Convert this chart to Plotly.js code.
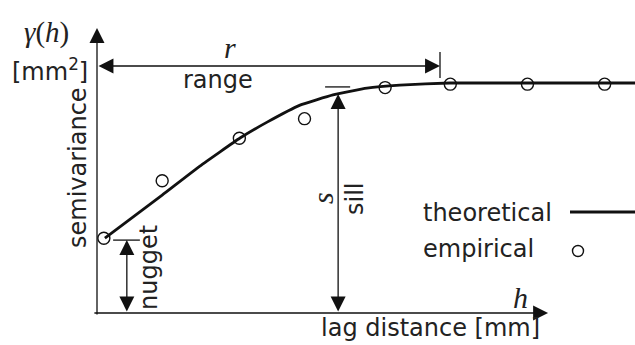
<!DOCTYPE html>
<html>
<head>
<meta charset="utf-8">
<script src="https://cdn.plot.ly/plotly-3.0.1.min.js"></script>
<style>
  html, body { margin: 0; padding: 0; background: #fff; }
  #chart { width: 635px; height: 345px; }
</style>
</head>
<body>
<div id="chart"></div>
<script>
// Empirical semivariogram (lag distance h in mm, semivariance in mm^2)
const empLag   = [0.2, 1.9, 4.15, 6.05, 8.4, 10.3, 12.55, 14.8];
const empGamma = [3.25, 5.75, 7.6, 8.45, 9.8, 9.95, 9.95, 9.95];

// Fitted (theoretical) model curve
const theoLag   = [0.23, 1.9, 3.0, 4.17, 4.96, 5.92, 6.88, 7.87, 8.83, 10.29, 15.7];
const theoGamma = [3.26, 5.13, 6.39, 7.61, 8.3, 9.04, 9.48, 9.78, 9.91, 10.0, 10.0];

// Model parameters annotated on the diagram
const nugget = 3.17;
const sill = 10.0;
const rangeR = 10.0;
const sillLag = 7.03;          // where the sill arrow is drawn
const sillTip = 9.52;          // curve height at that lag
const nuggetLag = 0.87;        // where the nugget arrow is drawn
const rangeLevel = 10.74;      // height of the range arrow

// Axis extents (data units)
const xAxisEnd = 13.15;
const yAxisEnd = 12.39;

const ink = '#111';
const textCol = '#222';
const sans = 'DejaVu Sans, sans-serif';
const serif = 'Liberation Serif, DejaVu Serif, serif';

const traces = [
  {
    x: theoLag, y: theoGamma, type: 'scatter', mode: 'lines',
    line: { color: ink, width: 2.8, shape: 'spline', smoothing: 0.35 },
    name: 'theoretical', showlegend: false, cliponaxis: false
  },
  {
    x: empLag, y: empGamma, type: 'scatter', mode: 'markers',
    marker: { symbol: 'circle-open', size: 12, color: ink, line: { width: 1.4, color: ink } },
    name: 'empirical', showlegend: false, cliponaxis: false
  }
];

function arrow(x, y, ax, ay, both) {
  const a = {
    x: x, y: y, ax: ax, ay: ay, xref: 'x', yref: 'y', axref: 'x', ayref: 'y',
    text: '', showarrow: true, arrowhead: 2, arrowsize: 2.3, arrowwidth: 1.3,
    arrowcolor: ink, standoff: 0, startstandoff: 0
  };
  if (both) {
    a.arrowside = 'end+start';
    a.startarrowhead = 2;
    a.startarrowsize = 2.3;
  }
  return a;
}

function label(x, y, text, opts) {
  return Object.assign({
    x: x, y: y, xref: 'paper', yref: 'paper', text: text, showarrow: false,
    font: { family: sans, size: 24, color: textCol },
    xanchor: 'center', yanchor: 'middle'
  }, opts || {});
}

const W = 635, H = 345;
const px = v => v / W;
const py = v => 1 - v / H;

const annotations = [
  // axes
  arrow(0, yAxisEnd, 0, -0.13, false),
  arrow(xAxisEnd, 0, -0.12, 0, false),
  // range, sill, nugget
  arrow(rangeR, rangeLevel, 0, rangeLevel, true),
  arrow(sillLag, sillTip, sillLag, 0, true),
  arrow(nuggetLag, nugget, nuggetLag, 0, true),

  label(px(46), py(32), '<i>γ</i>(<i>h</i>)', { font: { family: serif, size: 29, color: textCol } }),
  label(px(50), py(70), '[mm<sup>2</sup>]'),
  label(px(78), py(168), 'semivariance', { textangle: -90 }),
  label(px(230), py(47), '<i>r</i>', { font: { family: serif, size: 30, color: textCol } }),
  label(px(218), py(80), 'range'),
  label(px(149), py(268), 'nugget', { textangle: -90 }),
  label(px(322), py(198), '<i>s</i>', { textangle: -90, font: { family: serif, size: 30, color: textCol } }),
  label(px(355), py(199), 'sill', { textangle: -90 }),
  label(px(520), py(297), '<i>h</i>', { font: { family: serif, size: 30, color: textCol } }),
  label(px(431), py(328), 'lag distance [mm]'),
  label(px(421), py(213), 'theoretical', { xanchor: 'left' }),
  label(px(421), py(249), 'empirical', { xanchor: 'left' })
];

const shapes = [
  // end tick of the range arrow
  { type: 'line', xref: 'x', yref: 'y', x0: rangeR, x1: rangeR, y0: 10.22, y1: 11.35, line: { color: ink, width: 1.3 } },
  // cap of the sill arrow
  { type: 'line', xref: 'x', yref: 'y', x0: 6.65, x1: 7.38, y0: 9.83, y1: 9.83, line: { color: ink, width: 1.3 } },
  // cap of the nugget arrow
  { type: 'line', xref: 'x', yref: 'y', x0: 0.47, x1: 1.25, y0: nugget, y1: nugget, line: { color: ink, width: 1.3 } },
  // legend samples
  { type: 'line', xref: 'paper', yref: 'paper', x0: px(570), x1: px(640), y0: py(212), y1: py(212), line: { color: ink, width: 2.8 } },
  { type: 'circle', xref: 'paper', yref: 'paper', x0: px(572.5), x1: px(583.5), y0: py(256.5), y1: py(245.5), line: { color: ink, width: 1.4 } }
];

const layout = {
  width: W, height: H,
  margin: { l: 0, r: 0, t: 0, b: 0 },
  paper_bgcolor: '#fff', plot_bgcolor: '#fff',
  showlegend: false,
  xaxis: { range: [-2.828, 15.685], visible: false, fixedrange: true },
  yaxis: { range: [-1.391, 13.609], visible: false, fixedrange: true },
  annotations: annotations,
  shapes: shapes
};

Plotly.newPlot('chart', traces, layout, { displayModeBar: false, staticPlot: true });
</script>
</body>
</html>
